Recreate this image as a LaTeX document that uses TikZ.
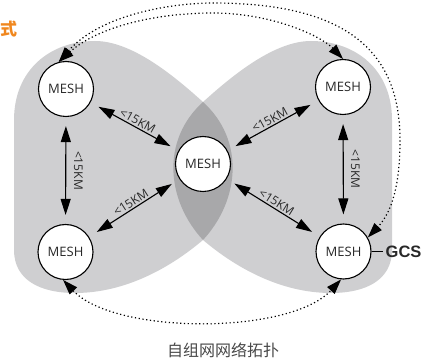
\documentclass[tikz,border=0pt]{standalone}
\usepackage{fontspec}
\setmainfont{Open Sans}
\newfontfamily\gcsfont{Liberation Sans}
\newfontfamily\cjkfont{Noto Sans CJK SC}
\usetikzlibrary{arrows.meta}
\definecolor{lobe}{RGB}{207,207,209}
\definecolor{lens}{RGB}{168,168,170}
\definecolor{txt}{RGB}{40,40,40}
\definecolor{orng}{RGB}{240,135,30}
\begin{document}
\begin{tikzpicture}[x=1pt,y=-1pt,
  mesh/.style={circle, draw=black, line width=1.1pt, fill=white, minimum size=55pt, inner sep=0pt, font=\fontsize{13}{14}\selectfont, text=txt},
  link/.style={line width=1.1pt, {Triangle[length=16pt,width=10pt]}-{Triangle[length=16pt,width=10pt]}, shorten <=9pt, shorten >=9pt},
  lbl/.style={font=\fontsize{12}{12}\selectfont, text=txt, inner sep=1.5pt},
  radio/.style={line width=1.2pt, dash pattern=on 1.2pt off 2.6pt, {Triangle[length=15pt,width=10pt]}-{Triangle[length=15pt,width=10pt]}}
]
\useasboundingbox (0,0) rectangle (426,363);
% lobes
\fill[lobe] (203,102) .. controls (170,72) and (130,41) .. (95,41) .. controls (50,41) and (14,70) .. (14,120) -- (14,250) .. controls (14,280) and (40,293) .. (75,293) .. controls (125,293) and (170,268) .. (203,240) .. controls (240,200) and (245,140) .. (203,102) -- cycle;
\fill[lobe] (203,102) .. controls (236,72) and (276,41) .. (311,41) .. controls (356,41) and (392,70) .. (392,120) -- (392,250) .. controls (392,280) and (366,293) .. (331,293) .. controls (281,293) and (236,268) .. (203,240) .. controls (166,200) and (161,140) .. (203,102) -- cycle;
\begin{scope}
\clip (203,102) .. controls (170,72) and (130,41) .. (95,41) .. controls (50,41) and (14,70) .. (14,120) -- (14,250) .. controls (14,280) and (40,293) .. (75,293) .. controls (125,293) and (170,268) .. (203,240) .. controls (240,200) and (245,140) .. (203,102) -- cycle;
\fill[lens] (203,102) .. controls (236,72) and (276,41) .. (311,41) .. controls (356,41) and (392,70) .. (392,120) -- (392,250) .. controls (392,280) and (366,293) .. (331,293) .. controls (281,293) and (236,268) .. (203,240) .. controls (166,200) and (161,140) .. (203,102) -- cycle;
\end{scope}
% nodes
\node[mesh] (tl) at (66,89) {MESH};
\node[mesh] (tr) at (343,87) {MESH};
\node[mesh] (bl) at (65.5,252) {MESH};
\node[mesh] (br) at (343.5,251.5) {MESH};
\node[mesh] (c) at (203,164) {MESH};
\node[font=\gcsfont\bfseries\fontsize{16.5}{17}\selectfont, text=txt, anchor=west, inner sep=2.5pt] (gcs) at (383,251.5) {GCS};
\node[font=\cjkfont\fontsize{16}{16}\selectfont, text=txt!85] (cap) at (223,350) {自组网网络拓扑};
\node[font=\cjkfont\bfseries\fontsize{17}{17}\selectfont, text=orng] (ttl) at (8.5,29) {式};
% radio links
\draw[radio] (tl.105) .. controls (100,15) and (170,3) .. (213,3) .. controls (345,3) and (400,50) .. (400,140) .. controls (400,185) and (392,212) .. (br.30);
\draw[radio] (tl.105) .. controls (100,25) and (160,13) .. (213,13) .. controls (270,13) and (320,35) .. (tr.90);
\draw[radio] (bl.265) .. controls (115,335) and (290,335) .. (br.265);
% distance links
\draw[link] (tl) -- node[lbl, sloped, above] {<15KM} (c);
\draw[link] (tr) -- node[lbl, sloped, above] {<15KM} (c);
\draw[link] (bl) -- node[lbl, sloped, above] {<15KM} (c);
\draw[link] (c) -- node[lbl, sloped, above] {<15KM} (br);
\draw[link] (tl) -- node[lbl, midway, xshift=12.5pt, rotate=-90] {<15KM} (bl);
\draw[link] (tr) -- node[lbl, midway, xshift=12pt, rotate=-90] {<15KM} (br);
\draw[line width=1.1pt] (br) -- (gcs);
\end{tikzpicture}
\end{document}
